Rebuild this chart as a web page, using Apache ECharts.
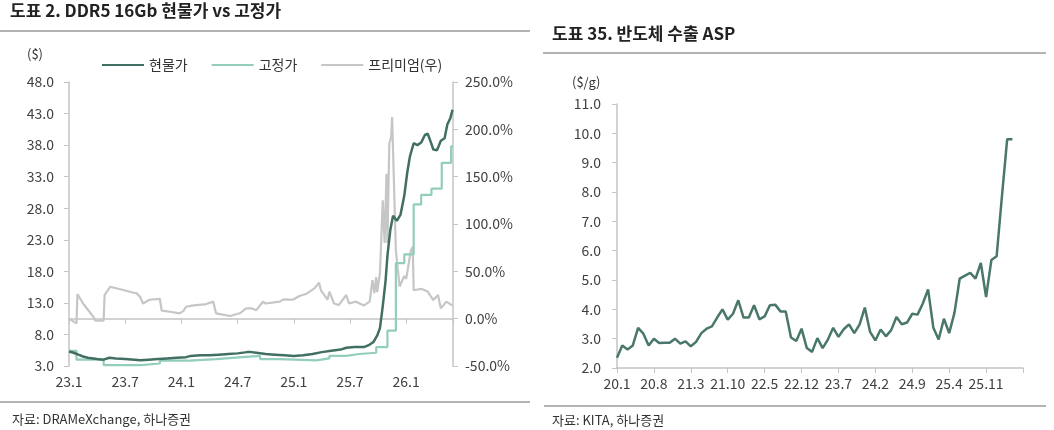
<!DOCTYPE html>
<html>
<head>
<meta charset="utf-8">
<script src="https://cdn.jsdelivr.net/npm/echarts@6/dist/echarts.min.js"></script>
<style>
  html, body { margin: 0; padding: 0; background: #fff; }
  #chart { width: 1054px; height: 430px; }
</style>
</head>
<body>
<div id="chart"></div>
<script>
// ---- 도표 2: DDR5 16Gb, x = months since 2023.1 ----
const spotMonth = [0, 0.5, 1, 1.5, 2, 3, 3.7, 4.3, 5, 6, 7, 7.6, 8.5, 9.5, 10.5, 11.5, 12.5, 13, 14, 15,
  16, 17, 18, 19, 19.5, 20, 21, 22, 23, 24, 25, 26, 27, 28, 29, 29.6, 30.5, 31.5, 32, 32.5,
  32.9, 33.2, 33.5, 33.8, 34, 34.3, 34.6, 35, 35.4, 35.8, 36.1, 36.4, 36.8, 37.2, 37.6, 38, 38.3, 38.6, 38.9, 39.3,
  39.7, 40.1, 40.4, 40.7, 40.95]
const spotPrice = [5.3, 5.1, 4.8, 4.5, 4.3, 4.1, 4.0, 4.3, 4.2, 4.1, 4.0, 3.9, 4.0, 4.1, 4.2, 4.3, 4.4, 4.6, 4.7, 4.7,
  4.8, 4.9, 5.0, 5.2, 5.2, 5.1, 4.9, 4.8, 4.7, 4.6, 4.7, 4.9, 5.2, 5.4, 5.6, 5.9, 6.0, 6.0, 6.3, 6.8,
  7.8, 9.0, 12.5, 16.5, 20.5, 24.5, 26.8, 26.0, 27.0, 30.0, 33.5, 36.2, 38.3, 38.0, 38.4, 39.6, 39.8, 38.6, 37.3, 37.2,
  38.7, 39.1, 41.3, 42.2, 43.6]

const contractMonth = [0, 0.8, 3.7, 7.7, 9.7, 12.9, 15.7, 18.5, 20.4, 22.5, 26.4, 27.8, 29.6, 31.0, 32.8, 34.0,
  34.9, 35.8, 36.8, 37.6, 38.7, 39.8, 40.8, 41]
const contractPrice = [5.4, 4.0, 3.15, 3.4, 3.85, 4.1, 4.4, 4.6, 4.1, 3.9, 4.2, 4.6, 4.9, 5.1, 6.0, 8.6,
  19.3, 20.7, 28.6, 30.1, 31.1, 35.2, 37.8, 37.8]

const premMonth = [0, 0.8, 0.9, 1.5, 2.6, 2.8, 3.7, 3.8, 4.4, 5.8, 6.9, 7.2, 7.6, 7.9, 8.6, 9.7, 9.9, 10.8, 11.8, 12.2,
  12.5, 13.3, 14.5, 15.4, 15.7, 17.2, 18.3, 18.9, 19.5, 20.0, 20.7, 21, 22.5, 22.9, 23.9, 24.6, 25.3, 26.2, 26.7, 26.9,
  27.6, 27.8, 28.3, 28.8, 29.6, 29.9, 30.6, 31.5, 32.1, 32.4, 32.6, 32.8, 32.9, 33.2, 33.5, 33.7, 33.9, 34.0, 34.2, 34.4,
  34.5, 34.7, 34.9, 35.3, 35.8, 36.0, 36.5, 36.7, 36.8, 37.6, 38.3, 38.9, 39.4, 39.7, 40.3, 40.9]
const premRatio = [0, -5, 26, 16, 2, -2, -2, 25, 33.7, 30.3, 27.4, 27, 23, 16, 20, 21, 8.5, 7.3, 5.6, 8,
  12.6, 14, 15, 18, 5.6, 2.8, 6, 10.9, 11, 9, 17.9, 16, 18, 20.4, 20, 24, 26, 32, 38, 30,
  20, 28.5, 16, 14.4, 25, 16, 18, 14, 18, 40.8, 27, 44, 28, 48, 125, 80, 153, 80, 185, 192,
  213, 213, 72, 34, 45, 42, 72, 76, 30, 31.5, 28.6, 19.7, 25, 11, 18, 14]

// ---- 도표 35: 반도체 수출 ASP, monthly 20.1 ~ ----
const aspMonths = []
for (let i = 0; i < 78; i++) {
  const y = 20 + Math.floor(i / 12)
  aspMonths.push(y + '.' + ((i % 12) + 1))
}
const aspValues = [2.35, 2.77, 2.63, 2.77, 3.37, 3.17, 2.77, 3.0, 2.85, 2.86,
  2.86, 3.0, 2.83, 2.91, 2.74, 2.89, 3.19, 3.34, 3.42, 3.72,
  4.0, 3.65, 3.85, 4.31, 3.72, 3.72, 4.14, 3.66, 3.76, 4.14,
  4.16, 3.93, 3.93, 3.04, 2.92, 3.34, 2.68, 2.55, 3.02, 2.68,
  2.97, 3.37, 3.06, 3.32, 3.49, 3.19, 3.48, 4.06, 3.23, 2.94,
  3.31, 3.08, 3.29, 3.74, 3.49, 3.55, 3.85, 3.82, 4.2, 4.68,
  3.37, 2.97, 3.68, 3.19, 3.88, 5.05, 5.15, 5.24, 5.05, 5.58,
  4.42, 5.68, 5.81, 7.84, 9.8, 9.8]

const FONT = 'Noto Sans CJK KR'
const SPOT = '#426f63'
const CONTRACT = '#93cdbb'
const PREM = '#c6c6c6'
const AXIS = '#c4c4c4'
const LABEL = '#404040'

const pairs = (xs, ys) => xs.map((x, i) => [x, ys[i]])

const chart = echarts.init(document.getElementById('chart'))

chart.setOption({
  backgroundColor: '#fff',
  animation: false,
  textStyle: { fontFamily: FONT },
  legend: {
    left: 97,
    top: 53,
    itemWidth: 42,
    itemHeight: 2,
    itemGap: 24,
    icon: 'rect',
    textStyle: { fontSize: 14, color: '#333', fontFamily: FONT },
    data: ['현물가', '고정가', '프리미엄(우)']
  },
  grid: [
    { left: 69, right: 601, top: 82, bottom: 64 },
    { left: 617, right: 31, top: 104, bottom: 62 }
  ],
  xAxis: [
    {
      type: 'value',
      gridIndex: 0,
      min: 0,
      max: 41,
      interval: 6,
      axisLine: { show: true, lineStyle: { color: AXIS, width: 1.5 } },
      axisTick: { show: true, length: 5, lineStyle: { color: AXIS } },
      splitLine: { show: false },
      axisLabel: {
        color: LABEL, fontSize: 14, margin: 9, fontFamily: FONT,
        formatter: (v) => v > 36 ? '' : (23 + Math.floor(v / 12)) + '.' + (v % 12 + 1)
      }
    },
    {
      type: 'category',
      gridIndex: 1,
      data: aspMonths,
      boundaryGap: false,
      axisLine: { lineStyle: { color: AXIS, width: 1.5 } },
      axisTick: { interval: 6, length: 5, lineStyle: { color: AXIS } },
      axisLabel: {
        interval: 6, color: LABEL, fontSize: 14, margin: 9, fontFamily: FONT,
        formatter: (v, idx) => idx >= 77 ? '' : v
      }
    }
  ],
  yAxis: [
    {
      type: 'value',
      gridIndex: 0,
      min: 3,
      max: 48,
      interval: 5,
      axisLine: { show: true, lineStyle: { color: AXIS, width: 1.5 } },
      axisTick: { show: true, length: 5, lineStyle: { color: AXIS } },
      splitLine: { show: false },
      axisLabel: { color: LABEL, fontSize: 14, margin: 15, fontFamily: FONT, formatter: (v) => v.toFixed(1) }
    },
    {
      type: 'value',
      gridIndex: 0,
      position: 'right',
      min: -50,
      max: 250,
      interval: 50,
      axisLine: { show: true, lineStyle: { color: AXIS, width: 1.5 } },
      axisTick: { show: true, length: 5, lineStyle: { color: AXIS } },
      splitLine: { show: false },
      axisLabel: { color: LABEL, fontSize: 14, margin: 12, fontFamily: FONT, formatter: (v) => v.toFixed(1) + '%' }
    },
    {
      type: 'value',
      gridIndex: 1,
      min: 2,
      max: 11,
      interval: 1,
      axisLine: { show: true, lineStyle: { color: AXIS, width: 1.5 } },
      axisTick: { show: true, length: 5, lineStyle: { color: AXIS } },
      splitLine: { show: false },
      axisLabel: { color: LABEL, fontSize: 14, margin: 16, fontFamily: FONT, formatter: (v) => v.toFixed(1) }
    }
  ],
  series: [
    {
      name: '프리미엄(우)',
      type: 'line',
      xAxisIndex: 0,
      yAxisIndex: 1,
      data: pairs(premMonth, premRatio),
      showSymbol: false,
      lineStyle: { color: PREM, width: 2.2 },
      itemStyle: { color: PREM },
      z: 1
    },
    {
      name: '고정가',
      type: 'line',
      xAxisIndex: 0,
      yAxisIndex: 0,
      step: 'end',
      data: pairs(contractMonth, contractPrice),
      showSymbol: false,
      lineStyle: { color: CONTRACT, width: 2.2 },
      itemStyle: { color: CONTRACT },
      z: 2
    },
    {
      name: '현물가',
      type: 'line',
      xAxisIndex: 0,
      yAxisIndex: 0,
      data: pairs(spotMonth, spotPrice),
      showSymbol: false,
      lineStyle: { color: SPOT, width: 2.5 },
      itemStyle: { color: SPOT },
      z: 3
    },
    {
      name: '반도체 수출 ASP',
      type: 'line',
      xAxisIndex: 1,
      yAxisIndex: 2,
      data: aspValues,
      showSymbol: false,
      lineStyle: { color: '#4a776b', width: 2.5 },
      itemStyle: { color: '#4a776b' }
    }
  ],
  graphic: [
    // left panel
    { type: 'text', left: 10, top: 2, style: { text: '도표 2. DDR5 16Gb 현물가 vs 고정가', font: 'bold 17px "Noto Sans CJK KR"', fill: '#222' } },
    { type: 'line', shape: { x1: 0, y1: 31, x2: 530, y2: 31 }, style: { stroke: '#9a9a9a', lineWidth: 1.5 } },
    { type: 'text', left: 27, top: 48, style: { text: '($)', font: '13px "Noto Sans CJK KR"', fill: '#333' } },
    { type: 'line', shape: { x1: 0, y1: 402, x2: 530, y2: 402 }, style: { stroke: '#9a9a9a', lineWidth: 1.5 } },
    { type: 'text', left: 12, top: 413, style: { text: '자료: DRAMeXchange, 하나증권', font: '13px "Noto Sans CJK KR"', fill: '#333' } },
    // right panel
    { type: 'text', left: 552, top: 25, style: { text: '도표 35. 반도체 수출 ASP', font: 'bold 17px "Noto Sans CJK KR"', fill: '#222' } },
    { type: 'line', shape: { x1: 543, y1: 53, x2: 1046, y2: 53 }, style: { stroke: '#9a9a9a', lineWidth: 1.5 } },
    { type: 'text', left: 572, top: 76, style: { text: '($/g)', font: '13px "Noto Sans CJK KR"', fill: '#333' } },
    { type: 'line', shape: { x1: 544, y1: 406, x2: 1046, y2: 406 }, style: { stroke: '#9a9a9a', lineWidth: 1.5 } },
    { type: 'text', left: 552, top: 414, style: { text: '자료: KITA, 하나증권', font: '13px "Noto Sans CJK KR"', fill: '#333' } }
  ]
})

window.addEventListener('resize', () => chart.resize())
</script>
</body>
</html>
